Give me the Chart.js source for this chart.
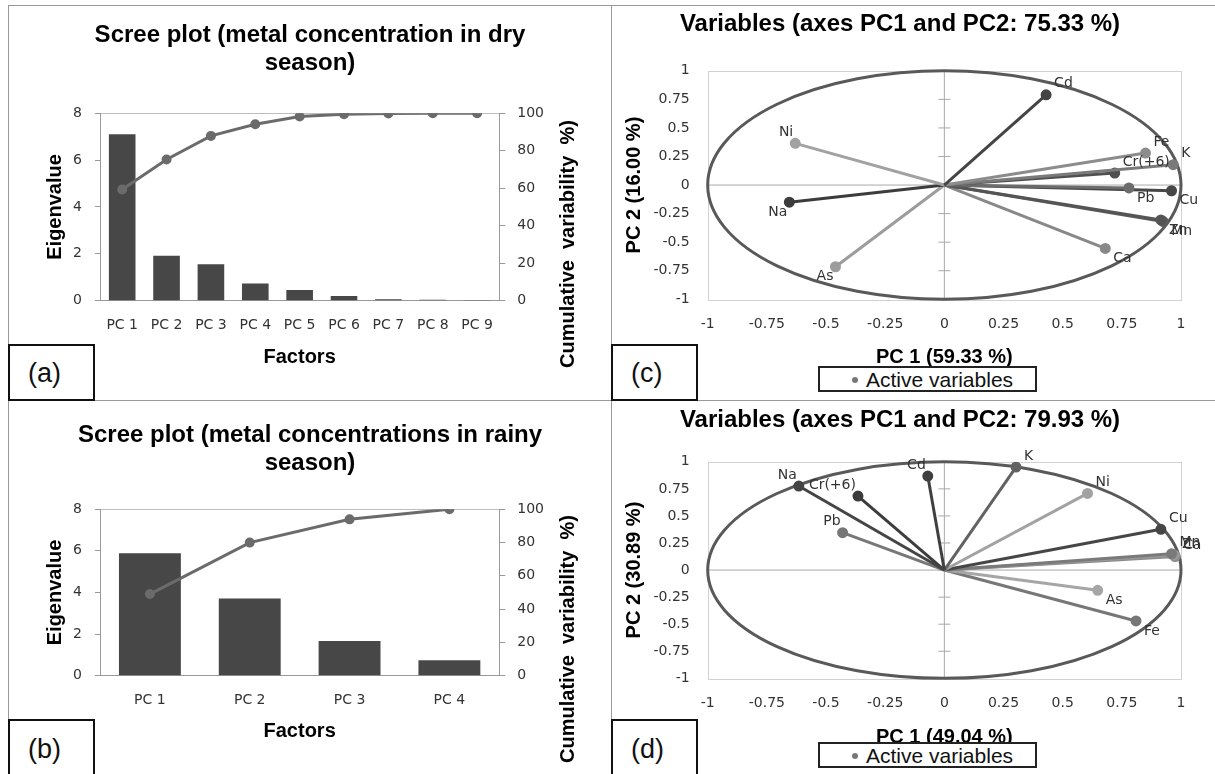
<!DOCTYPE html>
<html>
<head>
<meta charset="utf-8">
<script src="https://cdn.jsdelivr.net/npm/chart.js@4.4.1/dist/chart.umd.min.js"></script>
<style>
  body { margin: 0; background: #fff; }
  #fig { position: relative; width: 1215px; height: 774px; overflow: hidden; background: #fff; }
  #fig canvas { position: absolute; }
  .rule { position: absolute; background: #999; }
  .tag {
    position: absolute; box-sizing: border-box; border: 2px solid #111; background: #fff;
    font: 27px "Liberation Sans", Arial, sans-serif; color: #111; padding-left: 18px;
  }
  .legend {
    position: absolute; box-sizing: border-box; border: 2px solid #222; background: #fff;
    font: 21px "Liberation Sans", Arial, sans-serif; color: #111; line-height: 21px;
  }
  .legend span {
    position: absolute; left: 32px; top: 9px; width: 6px; height: 6px; border-radius: 50%; background: #777;
  }
</style>
</head>
<body>
<div id="fig">
  <canvas id="screeDry" width="604" height="395" style="left:8px;top:5px"></canvas>
  <canvas id="screeRainy" width="604" height="373" style="left:8px;top:401px"></canvas>
  <canvas id="pcaDry" width="603" height="395" style="left:612px;top:5px"></canvas>
  <canvas id="pcaRainy" width="603" height="373" style="left:612px;top:401px"></canvas>

  <div class="rule" style="left:8px;top:5px;width:1207px;height:1px"></div>
  <div class="rule" style="left:8px;top:5px;width:1px;height:769px"></div>
  <div class="rule" style="left:611px;top:5px;width:1px;height:769px"></div>
  <div class="rule" style="left:8px;top:400px;width:1207px;height:1px"></div>

  <div class="tag" style="left:8px;top:344px;width:87px;height:57px;line-height:55px">(a)</div>
  <div class="tag" style="left:8px;top:719px;width:87px;height:58px;line-height:56px">(b)</div>
  <div class="tag" style="left:611px;top:344px;width:87px;height:57px;line-height:55px">(c)</div>
  <div class="tag" style="left:611px;top:719px;width:87px;height:58px;line-height:56px">(d)</div>

  <div class="legend" style="left:818px;top:366px;width:219px;height:26px;padding-left:46px;padding-top:1px"><span></span>Active variables</div>
  <div class="legend" style="left:818px;top:742px;width:219px;height:26px;padding-left:46px;padding-top:1px"><span></span>Active variables</div>
</div>

<script>
// Scree plot data (eigenvalues + cumulative %)
const dryFactors = ['PC 1', 'PC 2', 'PC 3', 'PC 4', 'PC 5', 'PC 6', 'PC 7', 'PC 8', 'PC 9'];
const dryEigenvalues = [7.1, 1.92, 1.56, 0.73, 0.46, 0.2, 0.06, 0.04, 0.03];
const dryCumulative = [59.33, 75.33, 87.9, 94.1, 98.2, 99.5, 99.9, 100, 100];

const rainyFactors = ['PC 1', 'PC 2', 'PC 3', 'PC 4'];
const rainyEigenvalues = [5.88, 3.71, 1.67, 0.74];
const rainyCumulative = [49.04, 79.93, 93.9, 100];

// Correlation circle loadings
const dryVariables = ['Cd', 'Ni', 'Na', 'As', 'Fe', 'K', 'Cr(+6)', 'Pb', 'Cu', 'Zn', 'Mn', 'Ca'];
const dryPC1 = [0.43, -0.63, -0.655, -0.46, 0.85, 0.967, 0.72, 0.78, 0.96, 0.915, 0.925, 0.68];
const dryPC2 = [0.79, 0.365, -0.15, -0.715, 0.28, 0.178, 0.105, -0.025, -0.05, -0.305, -0.32, -0.555];

const rainyVariables = ['Na', 'Cr(+6)', 'Cd', 'K', 'Ni', 'Pb', 'Cu', 'Mn', 'Zn', 'Ca', 'As', 'Fe'];
const rainyPC1 = [-0.615, -0.365, -0.07, 0.303, 0.605, -0.43, 0.915, 0.96, 0.97, 0.975, 0.648, 0.81];
const rainyPC2 = [0.776, 0.683, 0.868, 0.951, 0.708, 0.345, 0.376, 0.15, 0.14, 0.125, -0.187, -0.47];

const loadingTicks = [-1, -0.75, -0.5, -0.25, 0, 0.25, 0.5, 0.75, 1];

// vector shades (style only)
const dryShades = ['#444', '#a2a2a2', '#3c3c3c', '#9c9c9c', '#8c8c8c', '#7a7a7a', '#505050', '#6c6c6c', '#474747', '#555', '#5c5c5c', '#888'];
const rainyShades = ['#454545', '#3c3c3c', '#404040', '#626262', '#a2a2a2', '#777', '#464646', '#7a7a7a', '#9a9a9a', '#8a8a8a', '#a6a6a6', '#777'];

Chart.defaults.font.family = "'DejaVu Sans', sans-serif";
Chart.defaults.color = '#333';
Chart.defaults.animation = false;

const boldFont = (size, lh) => ({ family: "'Liberation Sans', Arial, sans-serif", size: size, weight: 'bold', lineHeight: lh || 1.2 });

// right-hand axis title, read bottom-to-top like the left one
const sideTitle = {
    id: 'sideTitle',
    afterDraw(chart, args, opts) {
        const ctx = chart.ctx;
        ctx.save();
        ctx.translate(opts.x, opts.y);
        ctx.rotate(-Math.PI / 2);
        ctx.font = 'bold 20px "Liberation Sans", Arial, sans-serif';
        ctx.fillStyle = '#000';
        ctx.textAlign = 'center';
        ctx.textBaseline = 'middle';
        ctx.fillText(opts.text, 0, 0);
        ctx.restore();
    }
};

// plot frame, zero axes, tick marks and unit circle
const corrFrame = {
    id: 'corrFrame',
    beforeDatasetsDraw(chart) {
        const { ctx, chartArea: a, scales: { x, y } } = chart;
        const cx = x.getPixelForValue(0);
        const cy = y.getPixelForValue(0);
        ctx.save();
        ctx.lineWidth = 1;
        ctx.strokeStyle = '#d2d2d2';
        ctx.strokeRect(Math.round(a.left) + 0.5, Math.round(a.top) + 0.5, Math.round(a.width), Math.round(a.height));
        ctx.strokeStyle = '#a8a8a8';
        ctx.beginPath();
        ctx.moveTo(a.left, cy);
        ctx.lineTo(a.right, cy);
        ctx.moveTo(cx, a.top);
        ctx.lineTo(cx, a.bottom);
        y.ticks.forEach(t => {
            const py = y.getPixelForValue(t.value);
            ctx.moveTo(cx - 6, py);
            ctx.lineTo(cx + 6, py);
        });
        ctx.stroke();
        ctx.strokeStyle = '#595959';
        ctx.lineWidth = 3;
        ctx.beginPath();
        ctx.ellipse(cx, cy, x.getPixelForValue(1) - cx, cy - y.getPixelForValue(1), 0, 0, 2 * Math.PI);
        ctx.stroke();
        ctx.restore();
    },
    afterDatasetsDraw(chart) {
        const ctx = chart.ctx;
        ctx.save();
        ctx.font = '14px "DejaVu Sans", sans-serif';
        ctx.fillStyle = '#333';
        ctx.textBaseline = 'middle';
        chart.data.datasets.forEach((ds, i) => {
            const pt = chart.getDatasetMeta(i).data[1];
            const v = ds.data[1];
            ctx.textAlign = v.x >= 0 ? 'left' : 'right';
            ctx.fillText(ds.label, pt.x + (v.x >= 0 ? 8 : -2), pt.y + (v.y >= 0 ? -11 : 10));
        });
        ctx.restore();
    }
};

function renderScree(id, title, factors, eigen, cumul, opt) {
    const ctx = document.getElementById(id).getContext('2d');
    return new Chart(ctx, {
        type: 'bar',
        data: {
            labels: factors,
            datasets: [{
                type: 'line',
                data: cumul,
                yAxisID: 'y1',
                borderColor: '#6b6b6b',
                backgroundColor: '#6b6b6b',
                borderWidth: 3,
                pointRadius: 3.5,
                tension: 0,
                order: 0
            }, {
                type: 'bar',
                data: eigen,
                yAxisID: 'y',
                backgroundColor: '#474747',
                barPercentage: opt.bar,
                categoryPercentage: 1,
                order: 1
            }]
        },
        options: {
            responsive: false,
            plugins: {
                legend: { display: false },
                tooltip: { enabled: false },
                title: {
                    display: true,
                    text: title,
                    color: '#000',
                    font: boldFont(24, 1.15),
                    padding: { top: opt.titleTop, bottom: opt.titleBottom }
                },
                sideTitle: { text: 'Cumulative  variability  %)', x: 560, y: opt.sideY }
            },
            scales: {
                x: {
                    grid: { display: false, drawTicks: false },
                    border: { color: '#999' },
                    ticks: { font: { size: 14 }, padding: 16, maxRotation: 0, autoSkip: false },
                    title: { display: true, text: 'Factors', color: '#000', font: boldFont(20), padding: { top: 0, bottom: opt.factorsPad } },
                    afterFit: s => { s.height = opt.xHeight; }
                },
                y: {
                    position: 'left',
                    min: 0,
                    max: 8,
                    ticks: { stepSize: 2, font: { size: 14 }, padding: 13 },
                    grid: { color: c => (c.tick && c.tick.value === 8 ? '#bdbdbd' : 'transparent'), tickColor: '#999', tickLength: 5 },
                    border: { color: '#999' },
                    title: { display: true, text: 'Eigenvalue', color: '#000', font: boldFont(20), padding: { top: 35, bottom: 0 } },
                    afterFit: s => { s.width = 92; }
                },
                y1: {
                    position: 'right',
                    min: 0,
                    max: 100,
                    ticks: { stepSize: 20, font: { size: 14 }, padding: 12 },
                    grid: { drawOnChartArea: false, tickColor: '#999', tickLength: 6 },
                    border: { color: '#999' },
                    afterFit: s => { s.width = 112.7; }
                }
            }
        },
        plugins: [sideTitle]
    });
}

function renderCircle(id, title, names, pc1, pc2, shades, xTitle, yTitle, opt) {
    const ctx = document.getElementById(id).getContext('2d');
    const datasets = names.map((name, i) => ({
        label: name,
        data: [{ x: 0, y: 0 }, { x: pc1[i], y: pc2[i] }],
        showLine: true,
        borderColor: shades[i],
        backgroundColor: shades[i],
        borderWidth: 3,
        pointRadius: [0, 4],
        pointHoverRadius: 0
    }));
    const tickCb = v => String(v);
    return new Chart(ctx, {
        type: 'scatter',
        data: { datasets: datasets },
        options: {
            responsive: false,
            layout: { padding: { left: 7, right: 34 } },
            plugins: {
                legend: { display: false },
                tooltip: { enabled: false },
                title: {
                    display: true,
                    text: title,
                    color: '#000',
                    font: boldFont(24),
                    padding: { top: 5, bottom: opt.titleBottom }
                }
            },
            scales: {
                x: {
                    type: 'linear',
                    min: loadingTicks[0],
                    max: loadingTicks[loadingTicks.length - 1],
                    afterBuildTicks: s => { s.ticks = loadingTicks.map(v => ({ value: v })); },
                    grid: { display: false, drawTicks: false },
                    border: { display: false },
                    ticks: { font: { size: 14 }, padding: 17, maxRotation: 0, autoSkip: false, callback: tickCb },
                    title: { display: true, text: xTitle, color: '#000', font: boldFont(20), padding: { top: 0, bottom: opt.xTitlePad } },
                    afterFit: s => { s.height = opt.xHeight; }
                },
                y: {
                    type: 'linear',
                    min: loadingTicks[0],
                    max: loadingTicks[loadingTicks.length - 1],
                    afterBuildTicks: s => { s.ticks = loadingTicks.map(v => ({ value: v })); },
                    grid: { display: false, drawTicks: false },
                    border: { display: false },
                    ticks: { font: { size: 14 }, padding: 18, autoSkip: false, callback: tickCb },
                    title: { display: true, text: yTitle, color: '#000', font: boldFont(20), padding: { top: 3, bottom: 0 } },
                    afterFit: s => { s.width = 88.7; }
                }
            }
        },
        plugins: [corrFrame]
    });
}

renderScree('screeDry', ['Scree plot (metal concentration in dry', 'season)'],
    dryFactors, dryEigenvalues, dryCumulative,
    { bar: 0.6, titleTop: 17, titleBottom: 36, xHeight: 99.3, factorsPad: 31, sideY: 239 });

renderScree('screeRainy', ['Scree plot (metal concentrations in rainy', 'season)'],
    rainyFactors, rainyEigenvalues, rainyCumulative,
    { bar: 0.62, titleTop: 21, titleBottom: 32, xHeight: 98.3, factorsPad: 31, sideY: 238 });

renderCircle('pcaDry', 'Variables (axes PC1 and PC2: 75.33 %)',
    dryVariables, dryPC1, dryPC2, dryShades, 'PC 1 (59.33 %)', 'PC 2 (16.00 %)',
    { titleBottom: 32, xHeight: 100.7, xTitlePad: 31 });

renderCircle('pcaRainy', 'Variables (axes PC1 and PC2: 79.93 %)',
    rainyVariables, rainyPC1, rainyPC2, rainyShades, 'PC 1 (49.04 %)', 'PC 2 (30.89 %)',
    { titleBottom: 27, xHeight: 95.7, xTitlePad: 25 });
</script>
</body>
</html>
